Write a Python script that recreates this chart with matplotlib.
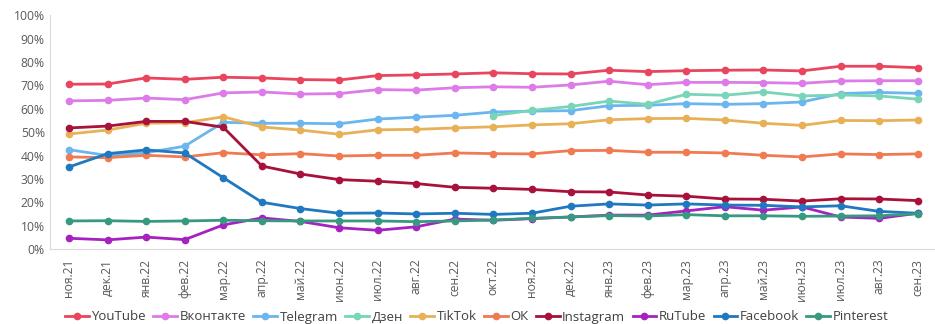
import matplotlib
matplotlib.use('Agg')
import matplotlib.pyplot as plt
import numpy as np

plt.rcParams['font.family'] = ['Open Sans', 'DejaVu Sans']

months = ['ноя.21', 'дек.21', 'янв.22', 'фев.22', 'мар.22', 'апр.22', 'май.22', 'июн.22',
          'июл.22', 'авг.22', 'сен.22', 'окт.22', 'ноя.22', 'дек.22', 'янв.23', 'фев.23',
          'мар.23', 'апр.23', 'май.23', 'июн.23', 'июл.23', 'авг.23', 'сен.23']

youtube = [70.5, 70.6, 73.2, 72.6, 73.5, 73.2, 72.5, 72.3, 74.2, 74.5, 74.9, 75.4,
           75.0, 74.9, 76.5, 75.9, 76.3, 76.5, 76.6, 76.2, 78.2, 78.2, 77.6]
vkontakte = [63.4, 63.6, 64.6, 63.9, 66.8, 67.2, 66.3, 66.5, 68.2, 68.0, 69.0, 69.4,
             69.2, 70.2, 71.8, 70.3, 71.3, 71.3, 71.2, 70.9, 71.9, 72.0, 72.0]
telegram = [42.5, 40.0, 41.2, 44.0, 54.2, 53.8, 53.8, 53.6, 55.6, 56.4, 57.2, 58.6,
            59.0, 59.2, 61.3, 61.5, 62.2, 61.9, 62.2, 62.9, 66.5, 67.0, 66.6]
dzen = [None] * 11 + [57.1, 59.3, 61.0, 63.3, 61.9, 66.2, 65.8, 67.2, 65.5, 65.9, 65.5, 64.1]
tiktok = [49.2, 50.9, 53.8, 54.0, 56.6, 52.2, 50.9, 49.1, 51.0, 51.2, 51.8, 52.3,
          53.1, 53.6, 55.3, 55.8, 55.9, 55.2, 53.8, 52.9, 55.0, 54.9, 55.2]
ok = [39.4, 39.1, 40.1, 39.4, 41.2, 40.3, 40.8, 39.8, 40.1, 40.1, 41.1, 40.8,
      40.7, 42.1, 42.2, 41.4, 41.4, 41.1, 40.1, 39.4, 40.7, 40.4, 40.7]
instagram = [51.8, 52.6, 54.6, 54.6, 52.1, 35.5, 32.1, 29.7, 29.0, 28.0, 26.4, 26.0,
             25.5, 24.5, 24.4, 23.1, 22.6, 21.4, 21.3, 20.5, 21.5, 21.4, 20.7]
rutube = [4.6, 3.9, 5.1, 4.0, 10.3, 13.3, 11.8, 9.1, 8.0, 9.5, 12.8, 12.3,
          13.0, 13.7, 14.5, 14.5, 16.3, 18.1, 16.6, 18.0, 13.7, 13.1, 15.3]
facebook = [35.1, 40.8, 42.4, 41.1, 30.5, 20.0, 17.3, 15.3, 15.4, 15.0, 15.3, 14.8,
            15.3, 18.3, 19.3, 18.8, 19.3, 18.8, 18.7, 18.0, 18.5, 16.1, 15.3]
pinterest = [12.0, 12.1, 11.8, 12.0, 12.3, 12.1, 12.0, 12.0, 12.0, 11.7, 12.0, 12.4,
             13.1, 13.7, 14.3, 14.1, 14.7, 14.2, 14.2, 14.0, 14.1, 14.2, 15.1]

series = [
    ('YouTube', youtube, '#E9455E'),
    ('Вконтакте', vkontakte, '#DD7BE8'),
    ('Telegram', telegram, '#6BB6EE'),
    ('Дзен', dzen, '#78D5B8'),
    ('TikTok', tiktok, '#E8B158'),
    ('ОК', ok, '#F07A52'),
    ('Instagram', instagram, '#A8123A'),
    ('RuTube', rutube, '#A622C0'),
    ('Facebook', facebook, '#1F78C0'),
    ('Pinterest', pinterest, '#379A80'),
]

fig = plt.figure(figsize=(9.35, 3.24), dpi=100)
ax = fig.add_axes([49.7 / 935, 1 - 249 / 324, (937 - 49.7) / 935, (249 - 15.3) / 324])

x = np.arange(len(months))
for name, vals, color in series:
    y = np.array([np.nan if v is None else v for v in vals], dtype=float)
    ax.plot(x, y, color=color, lw=2.0, marker='o', ms=4.5, label=name)

ax.set_xlim(-0.5, len(months) - 0.5)
ax.set_ylim(0, 100)
ax.set_yticks(range(0, 101, 10))
ax.set_yticklabels([f'{v}%' for v in range(0, 101, 10)])
ax.set_xticks(x)
ax.set_xticklabels(months, rotation=90)
ax.tick_params(axis='both', length=0, labelsize=8.7, labelcolor='#595959')
ax.tick_params(axis='x', pad=7)
for s in ['top', 'right']:
    ax.spines[s].set_visible(False)
for s in ['left', 'bottom']:
    ax.spines[s].set_color('#D9D9D9')

fig.legend(loc='center', bbox_to_anchor=(0.51, 1 - 317 / 324), ncol=10, frameon=False,
           fontsize=9.5, handlelength=1.8, handletextpad=0.2, columnspacing=0.55,
           labelcolor='#404040')

fig.savefig('out.png', dpi=100)
